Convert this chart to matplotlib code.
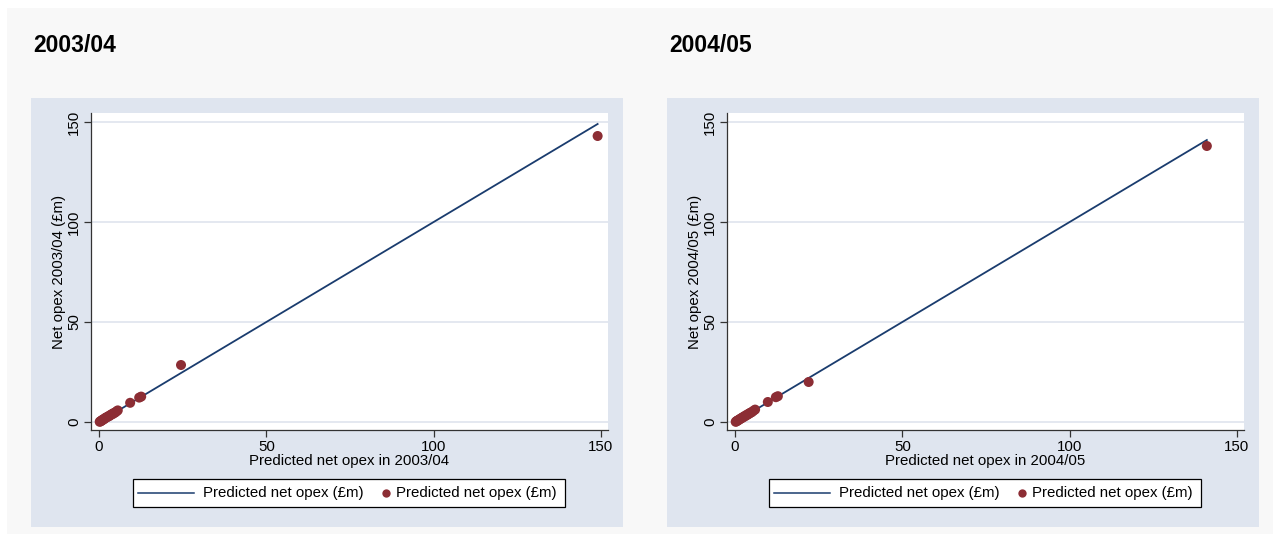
import matplotlib.pyplot as plt
from matplotlib.patches import Rectangle
from matplotlib.lines import Line2D

plt.rcParams['font.family'] = ['Liberation Sans', 'DejaVu Sans']

W, H = 1273, 534

years = ["2003/04", "2004/05"]

# predicted vs actual net opex (GBP m), one pair of arrays per year
pred_0304 = [0.2, 0.4, 0.6, 0.8, 1.0, 1.2, 1.5, 1.8, 2.0, 2.3, 2.6, 2.9, 3.2,
             3.5, 3.8, 4.1, 4.4, 4.8, 5.2, 5.6, 9.3, 12.0, 12.6, 24.5, 149.0]
act_0304 = [0.1, 0.3, 0.5, 0.8, 0.9, 1.3, 1.4, 1.9, 2.1, 2.4, 2.6, 3.0, 3.1,
            3.6, 3.9, 4.0, 4.5, 4.7, 5.3, 5.8, 9.6, 12.2, 12.7, 28.5, 143.0]
pred_0405 = [0.2, 0.4, 0.6, 0.8, 1.0, 1.3, 1.6, 1.9, 2.2, 2.5, 2.8, 3.1, 3.4,
             3.7, 4.0, 4.3, 4.6, 5.0, 5.5, 6.0, 9.8, 12.2, 12.8, 22.0, 141.0]
act_0405 = [0.1, 0.3, 0.6, 0.7, 1.0, 1.2, 1.7, 1.8, 2.3, 2.4, 2.9, 3.0, 3.5,
            3.6, 4.1, 4.2, 4.7, 4.9, 5.6, 6.2, 10.0, 12.4, 12.9, 20.0, 138.0]
line_max = [149.0, 141.0]

xticks = [0, 50, 100, 150]
yticks = [0, 50, 100, 150]
legend_label = "Predicted net opex (£m)"

line_col = "#1a3c6e"
dot_col = "#8c2d34"
panel_col = "#dfe5ef"
grid_col = "#dfe4ee"
fs = 10.8


def fx(px):
    return px / W


def fy(py):
    return 1 - py / H


fig = plt.figure(figsize=(W / 100, H / 100), dpi=100)
fig.patch.set_facecolor("white")
fig.patches.append(Rectangle((fx(7), 0), 1, fy(8), transform=fig.transFigure,
                             facecolor="#f8f8f8", edgecolor="none", zorder=0))

data = [(pred_0304, act_0304), (pred_0405, act_0405)]

for i, year in enumerate(years):
    off = i * 636
    # light blue panel behind each plot
    fig.patches.append(Rectangle((fx(31 + off), fy(527)), fx(592), 429 / H,
                                 transform=fig.transFigure, facecolor=panel_col,
                                 edgecolor="none", zorder=0.5))
    fig.text(fx(33 + off), fy(46), year, fontsize=16.5, fontweight="bold",
             va="center", ha="left")

    ax = fig.add_axes([fx(91 + off), fy(430), fx(517), 317 / H])
    ax.set_zorder(1)
    pred, act = data[i]
    ax.plot([0, line_max[i]], [0, line_max[i]], color=line_col, lw=1.3, zorder=2)
    ax.scatter(pred, act, s=52, color=dot_col, edgecolors="none", zorder=3)

    ax.set_xlim(-2.4, 152.1)
    ax.set_ylim(-4, 154.5)
    ax.set_xticks(xticks)
    ax.set_yticks(yticks)
    ax.set_yticklabels([str(t) for t in yticks], rotation=90, va="center")
    ax.tick_params(labelsize=fs, length=5, width=0.9, color="#333333", pad=2)
    ax.grid(axis="y", color=grid_col, lw=1.2)
    ax.set_axisbelow(True)
    for s in ["top", "right"]:
        ax.spines[s].set_visible(False)
    for s in ["left", "bottom"]:
        ax.spines[s].set_color("#333333")
        ax.spines[s].set_linewidth(0.9)
    ax.set_xlabel("Predicted net opex in " + year, fontsize=fs, labelpad=0)
    ax.set_ylabel("Net opex " + year + " (£m)", fontsize=fs, labelpad=1)

    # legend box drawn by hand so the marker key stays short
    fig.patches.append(Rectangle((fx(133 + off), fy(507)), fx(432), 28 / H,
                                 transform=fig.transFigure, facecolor="white",
                                 edgecolor="black", lw=0.9, zorder=2))
    fig.lines.append(Line2D([fx(138 + off), fx(194 + off)], [fy(493), fy(493)],
                            transform=fig.transFigure, color=line_col, lw=1.1,
                            zorder=3))
    fig.text(fx(203 + off), fy(493), legend_label, fontsize=fs,
             va="center", ha="left", zorder=3)
    fig.lines.append(Line2D([fx(386 + off)], [fy(493)], marker="o", ms=6,
                            color=dot_col, mec="none", ls="none",
                            transform=fig.transFigure, zorder=3))
    fig.text(fx(396 + off), fy(493), legend_label, fontsize=fs,
             va="center", ha="left", zorder=3)

fig.savefig("out.png", dpi=100)
